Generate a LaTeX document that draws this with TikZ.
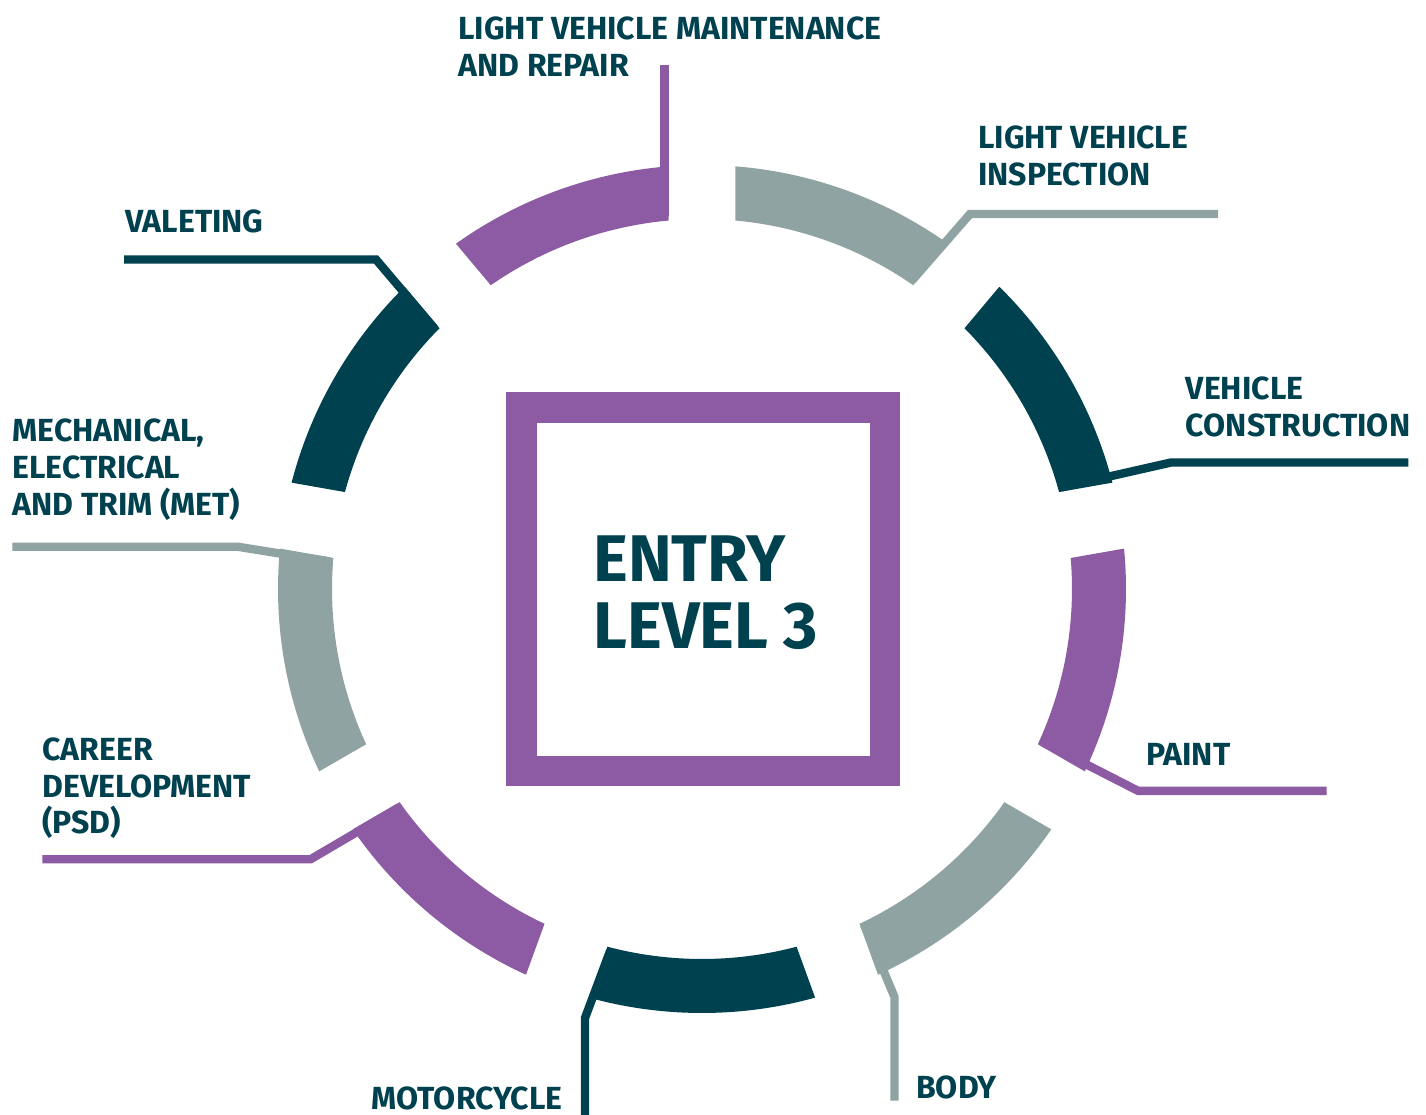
\documentclass[tikz,border=0pt]{standalone}
\usepackage{fontspec}
\setmainfont{Fira Sans}
\usepackage{tikz}
\definecolor{petrol}{HTML}{00414F}
\definecolor{sage}{HTML}{8FA3A2}
\definecolor{mauve}{HTML}{8C5BA3}

\begin{document}
\begin{tikzpicture}[x=1pt,y=-1pt,conn/.style={line width=8.4pt},lbl/.style={anchor=base west,align=left,inner sep=0pt,text=petrol,font=\fontsize{32}{36.7}\selectfont\bfseries},centre/.style={draw=mauve,line width=30.5pt,minimum size=363.5pt,inner sep=0pt},title/.style={anchor=base west,align=left,inner sep=0pt,text=petrol,font=\fontsize{66}{67}\selectfont\bfseries}]
	\useasboundingbox (0,0) rectangle (1426,1115);

	% ring of nine segments
	\begin{scope}[shift={(702,589)},yscale=-1]
	\foreach \ang/\col in {-90/petrol,-50/sage,-10/mauve,30/petrol,70/sage,110/mauve,150/petrol,190/sage,230/mauve}
	{
		\pgfmathsetmacro{\outA}{\ang-20+4.53}
		\pgfmathsetmacro{\outB}{\ang+20-4.53}
		\pgfmathsetmacro{\inA}{\ang-20+5.19}
		\pgfmathsetmacro{\inB}{\ang+20-5.19}
		\fill[\col] (\outA:424) arc[start angle=\outA,end angle=\outB,radius=424] -- (\inB:370) arc[start angle=\inB,end angle=\inA,radius=370] -- cycle;
	}
	\end{scope}

	\node[centre]			(box)		at (703,589)		{};
	\node[title]			(entry)		at (593.3,648.7)	{ENTRY\\LEVEL 3};

	\node[lbl]				(lvmr)		at (458.3,76.7)		{LIGHT VEHICLE MAINTENANCE\\AND REPAIR};
	\node[lbl]				(lvi)		at (978,185.2)		{LIGHT VEHICLE\\INSPECTION};
	\node[lbl]				(constr)	at (1185.7,436)		{VEHICLE\\CONSTRUCTION};
	\node[lbl]				(paint)		at (1146,765)		{PAINT};
	\node[lbl]				(body)		at (916,1098.3)		{BODY};
	\node[lbl]				(moto)		at (371.7,1109)		{MOTORCYCLE};
	\node[lbl]				(career)	at (42.3,833.9)		{CAREER\\DEVELOPMENT\\(PSD)};
	\node[lbl]				(met)		at (12.3,515)		{MECHANICAL,\\ELECTRICAL\\AND TRIM (MET)};
	\node[lbl]				(valet)		at (125,232.3)		{VALETING};

	% connectors: arc end, elbow, free end
	\coordinate (lvmr-a) at (664.5,216);	\coordinate (lvmr-c) at (664.5,65);
	\coordinate (lvi-a) at (912.1,280.4);	\coordinate (lvi-b) at (970,214);		\coordinate (lvi-c) at (1218,214);
	\coordinate (constr-a) at (1061.1,487.4);	\coordinate (constr-b) at (1171,462.5);	\coordinate (constr-c) at (1408.3,462.5);
	\coordinate (paint-a) at (1042.4,742);	\coordinate (paint-b) at (1138,790.8);	\coordinate (paint-c) at (1326.7,790.8);
	\coordinate (body-a) at (864.3,924.9);	\coordinate (body-b) at (894.5,997);	\coordinate (body-c) at (894.5,1100.7);
	\coordinate (moto-a) at (610.2,950.8);	\coordinate (moto-b) at (585,1018);		\coordinate (moto-c) at (585,1116);
	\coordinate (career-a) at (399.2,807.2);	\coordinate (career-b) at (310.7,859.2);	\coordinate (career-c) at (42.3,859.2);
	\coordinate (met-a) at (329.8,561.5);	\coordinate (met-b) at (237.5,546.7);	\coordinate (met-c) at (12.3,546.7);
	\coordinate (valet-a) at (434.6,328.6);	\coordinate (valet-b) at (376,259.5);	\coordinate (valet-c) at (124,259.5);

	\draw[conn,mauve]	(lvmr-a) -- (lvmr-c);
	\draw[conn,sage]	(lvi-a) -- (lvi-b) -- (lvi-c);
	\draw[conn,petrol]	(constr-a) -- (constr-b) -- (constr-c);
	\draw[conn,mauve]	(paint-a) -- (paint-b) -- (paint-c);
	\draw[conn,sage]	(body-a) -- (body-b) -- (body-c);
	\draw[conn,petrol]	(moto-a) -- (moto-b) -- (moto-c);
	\draw[conn,mauve]	(career-a) -- (career-b) -- (career-c);
	\draw[conn,sage]	(met-a) -- (met-b) -- (met-c);
	\draw[conn,petrol]	(valet-a) -- (valet-b) -- (valet-c);
\end{tikzpicture}
\end{document}
